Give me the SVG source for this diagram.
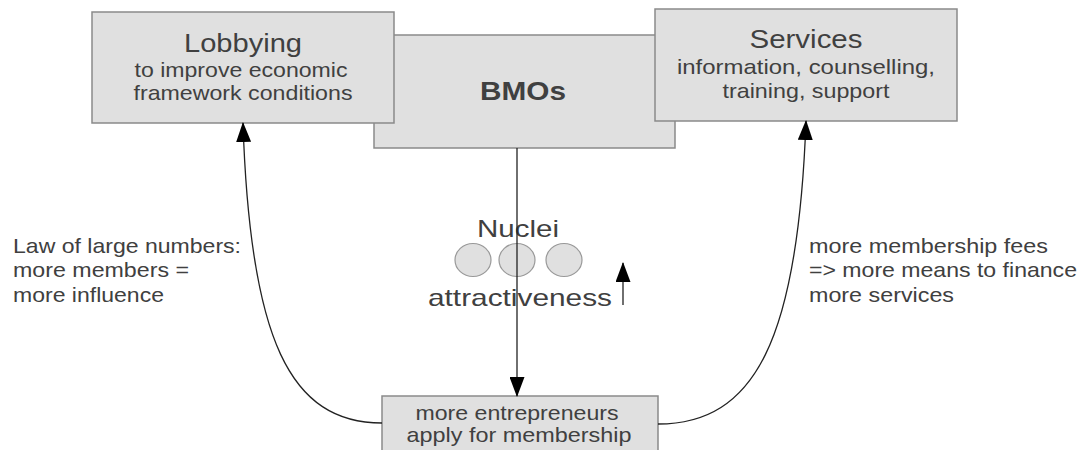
<svg xmlns="http://www.w3.org/2000/svg" width="1084" height="450" viewBox="0 0 1084 450">
<defs>
<style>
.box{fill:#e0e0e0;stroke:#8a8a8a;stroke-width:1.5}
.t{font-family:"Liberation Sans",Arial,sans-serif;fill:#404040;text-anchor:middle}
.l{font-family:"Liberation Sans",Arial,sans-serif;fill:#404040;font-size:21px}
.big{font-size:25px}
.sub{font-size:21px}
.con{fill:none;stroke:#222;stroke-width:1.3}
.nuc{fill:#e0e0e0;stroke:#999;stroke-width:1.2}
</style>
<marker id="ah" markerWidth="20" markerHeight="15" refX="19" refY="7.5" orient="auto" markerUnits="userSpaceOnUse">
<path d="M0,0 L20,7.5 L0,15 z" fill="#000"/>
</marker>
</defs>
<rect width="1084" height="450" fill="#fff"/>
<g id="bmos">
<rect class="box" x="374" y="35" width="301" height="113"/>
<text class="t" x="523" y="100" font-size="25" font-weight="bold" textLength="86" lengthAdjust="spacingAndGlyphs">BMOs</text>
</g>
<g id="lobbying">
<rect class="box" x="92" y="12" width="302" height="111"/>
<text class="t big" x="243" y="52" textLength="118" lengthAdjust="spacingAndGlyphs">Lobbying</text>
<text class="t sub" x="241" y="77" textLength="213" lengthAdjust="spacingAndGlyphs">to improve economic</text>
<text class="t sub" x="243" y="100" textLength="219" lengthAdjust="spacingAndGlyphs">framework conditions</text>
</g>
<g id="services">
<rect class="box" x="655" y="9" width="302" height="112"/>
<text class="t big" x="806" y="48" textLength="113" lengthAdjust="spacingAndGlyphs">Services</text>
<text class="t sub" x="806" y="74" textLength="258" lengthAdjust="spacingAndGlyphs">information, counselling,</text>
<text class="t sub" x="806" y="98" textLength="167" lengthAdjust="spacingAndGlyphs">training, support</text>
</g>
<g id="entrepreneurs">
<rect class="box" x="382" y="396" width="276" height="62"/>
<text class="t sub" x="517" y="420" textLength="203" lengthAdjust="spacingAndGlyphs">more entrepreneurs</text>
<text class="t sub" x="519" y="442" textLength="225" lengthAdjust="spacingAndGlyphs">apply for membership</text>
</g>
<g id="nuclei">
<ellipse class="nuc" cx="473" cy="260" rx="18" ry="16.5"/>
<ellipse class="nuc" cx="517" cy="260" rx="18" ry="16.5"/>
<ellipse class="nuc" cx="564" cy="260" rx="18" ry="16.5"/>
<text class="t" x="518" y="237" font-size="24" textLength="82" lengthAdjust="spacingAndGlyphs">Nuclei</text>
<text class="t" x="520" y="306" font-size="24" textLength="184" lengthAdjust="spacingAndGlyphs">attractiveness</text>
</g>
<g id="left-label">
<text class="l" x="13" y="253" textLength="228" lengthAdjust="spacingAndGlyphs">Law of large numbers:</text>
<text class="l" x="13" y="277" textLength="176" lengthAdjust="spacingAndGlyphs">more members =</text>
<text class="l" x="13" y="302" textLength="151" lengthAdjust="spacingAndGlyphs">more influence</text>
</g>
<g id="right-label">
<text class="l" x="809" y="253" textLength="239" lengthAdjust="spacingAndGlyphs">more membership fees</text>
<text class="l" x="809" y="277" textLength="268" lengthAdjust="spacingAndGlyphs">=&gt; more means to finance</text>
<text class="l" x="809" y="302" textLength="145" lengthAdjust="spacingAndGlyphs">more services</text>
</g>
<g id="connectors">
<path class="con" d="M517,148 L517,396" marker-end="url(#ah)"/>
<path class="con" d="M382,423 C290,423 250,340 243,123" marker-end="url(#ah)"/>
<path class="con" d="M658,424 C755,424 798,340 806,121" marker-end="url(#ah)"/>
<path class="con" d="M623,305 L623,263" marker-end="url(#ah)"/>
</g>
</svg>
